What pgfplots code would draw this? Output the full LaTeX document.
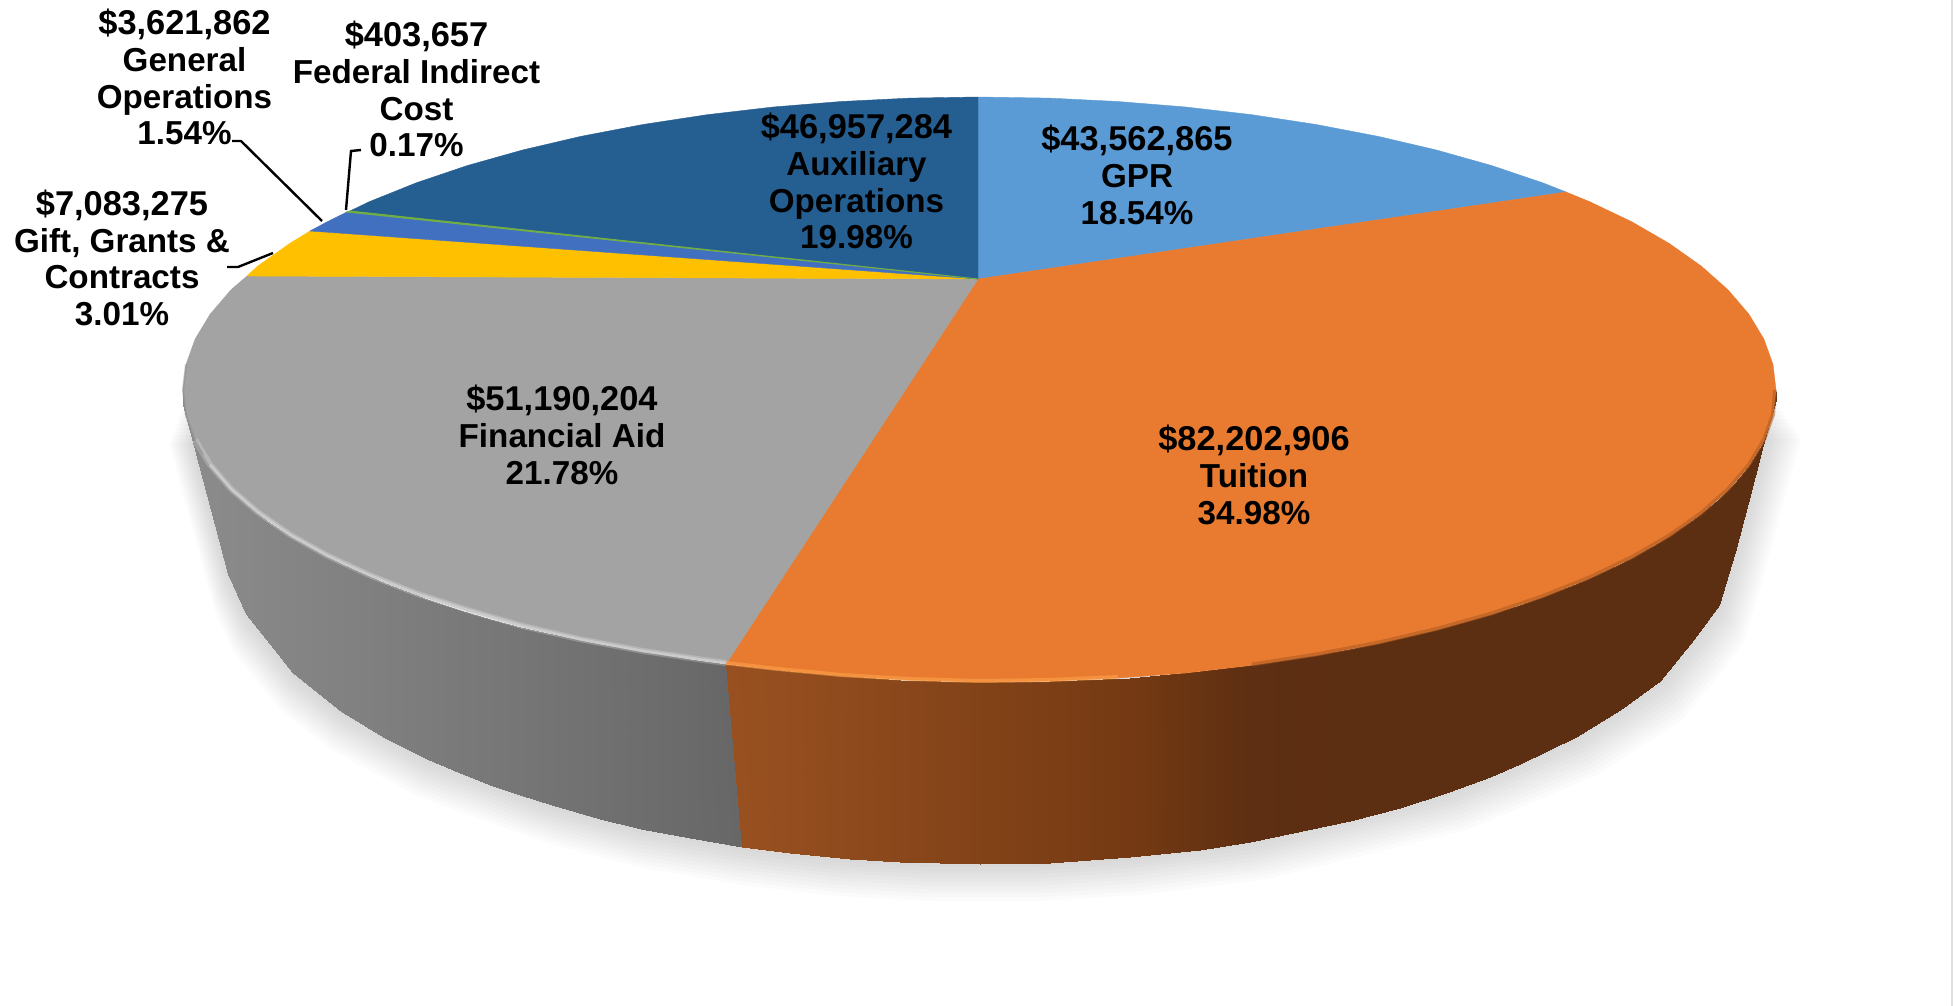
\documentclass[border=0pt]{standalone}
\usepackage{pgfplots}
\pgfplotsset{compat=1.18}
\usepackage{pgfplotstable}
\usepackage{fontspec}
\setmainfont{Liberation Sans}

\definecolor{gpr}{HTML}{5B9BD5}
\definecolor{tuition}{HTML}{E97B30}
\definecolor{finaid}{HTML}{A3A3A3}
\definecolor{gift}{HTML}{FFC000}
\definecolor{genop}{HTML}{4170C0}
\definecolor{fed}{HTML}{70AD47}
\definecolor{aux}{HTML}{255E91}

% lower outline of the pie, used for the soft shadow
\pgfplotstableread{
x y
183 405
203 480
228 574
246 614
293 673
342 712
427 759
552 805
641 829
742 847
834 858
926 863
1033 863
1129 857
1250 842
1449 792
1576 737
1660 681
1694 639
1719 605
1735 552
1748 503
1763 445
1776 400
}\outline

\tikzset{lab/.style={font=\bfseries\fontsize{17.2}{18.4}\selectfont,align=center,text=black,inner sep=0pt}}
\newcommand{\tl}[1]{{\fontsize{16.6}{18.4}\selectfont #1}}

\begin{document}
\begin{tikzpicture}
\path[use as bounding box] (0,0) rectangle (977.5pt,503pt);
\begin{axis}[
    scale only axis,
    width=977.5pt,
    height=503pt,
    xmin=0, xmax=1955,
    ymin=0, ymax=1006,
    y dir=reverse,
    hide axis,
    clip=false,
    colormap={side}{rgb255=(140,140,140) rgb255=(103,103,103) rgb255=(152,80,32) rgb255=(117,58,19) rgb255=(92,46,18)},
    point meta min=0,
    point meta max=4,
]
% frame line at the right edge of the picture
\addplot[no marks,color=black!12,line width=0.9pt] coordinates {(1952,0)(1952,1006)};
% shadow
\pgfplotsinvokeforeach{1,...,10}{
  \addplot[draw=none,fill=black,fill opacity=0.014]
    table[x expr={979+(\thisrow{x}-979)*(1+#1*0.0025)+#1*0.6},y expr={\thisrow{y}+#1*3.8}] {\outline} -- cycle;
}
% side, grey
\addplot[surf,shader=interp,mesh/rows=2,point meta=\thisrow{c}] table[x=x,y=y] {
x y c
183 392 0
190 429 0.01
203 455 0.04
215 472 0.06
228 483 0.08
246 504 0.11
270 523 0.16
293 538 0.20
342 564 0.28
385 583 0.36
427 599 0.44
460 610 0.50
490 619 0.55
520 627 0.60
552 634 0.66
600 644 0.75
641 651 0.82
690 659 0.91
726 664 1
183 405 0
190 431 0.01
203 480 0.04
215 525 0.06
228 574 0.08
246 614 0.11
270 644 0.16
293 673 0.20
342 712 0.28
385 738 0.36
427 759 0.44
460 773 0.50
490 785 0.55
520 795 0.60
552 805 0.66
600 819 0.75
641 829 0.82
690 838 0.91
742 847 1
};
% side, orange
\addplot[surf,shader=interp,mesh/rows=2,point meta=\thisrow{c}] table[x=x,y=y] {
x y c
726 664 2
790 671 2.12
850 676 2.28
900 680 2.41
980 682 2.61
1050 681 2.80
1130 678 3
1200 671 3.54
1250 665 3.92
1350 649 4
1400 638 4
1449 626 4
1490 614 4
1520 605 4
1576 584 4
1620 564 4
1660 542 4
1694 519 4
1719 499 4
1735 483 4
1748 467 4
1763 443 4
1776 392 4
742 847 2
790 853 2.12
850 859 2.28
900 862 2.41
980 864 2.61
1050 863 2.80
1130 857 3
1200 850 3.54
1250 842 3.92
1350 821 4
1400 808 4
1449 792 4
1490 777 4
1520 764 4
1576 737 4
1620 710 4
1660 681 4
1694 639 4
1719 605 4
1735 552 4
1748 503 4
1763 445 4
1776 400 4
};
% top face
\addplot[fill=gpr,draw=gpr,line width=0.2pt] coordinates {
(978,279)(978,97)(1048.9,98.1)(1117.8,101.5)(1185.7,107)(1251.9,114.7)(1316.1,124.5)(1377.8,136.3)(1436.4,150)(1491.5,165.5)(1542.7,182.8)(1566,192)
} -- cycle;
\addplot[fill=tuition,draw=tuition,line width=0.2pt] coordinates {
(978,279)(1566,192)(1589.7,201.7)(1632,221.9)(1669.3,243.5)(1701.4,266.2)(1728,289.8)(1748.9,314.2)(1763.9,339.1)(1773,364.5)(1776,390)(1773,415.5)(1763.9,440.9)(1748.9,465.8)(1728,490.2)(1701.4,513.8)(1669.3,536.5)(1632,558.1)(1589.7,578.3)(1542.7,597.2)(1491.5,614.5)(1436.4,630)(1377.8,643.7)(1316.1,655.5)(1251.9,665.3)(1185.7,673)(1117.8,678)(1048.9,681)(979.5,682)(910.1,680)(841.2,676)(773.3,669.5)(726,664)
} -- cycle;
\addplot[fill=finaid,draw=finaid,line width=0.2pt] coordinates {
(978,279)(726,664)(707.1,661.5)(642.9,652)(581.2,640.5)(522.6,627)(467.5,611)(416.3,594.5)(369.3,576)(327,556.5)(289.7,535.5)(257.6,513)(231,490.2)(210.1,465.8)(195.1,440.9)(186,415.5)(183,390)(186,364.5)(195.1,339.1)(210.1,314.2)(231,289.8)(247,276)
} -- cycle;
\addplot[fill=gift,draw=gift,line width=0.2pt] coordinates {
(978,279)(247,276)(257.6,266.2)(289.7,243.5)(310,231)
} -- cycle;
\addplot[fill=genop,draw=genop,line width=0.2pt] coordinates {
(978,279)(310,231)(327,221.9)(347,212)
} -- cycle;
\addplot[fill=aux,draw=aux,line width=0.2pt] coordinates {
(978,279)(350,211)(369.3,201.7)(416.3,182.8)(467.5,165.5)(522.6,150)(581.2,136.3)(642.9,124.5)(707.1,114.7)(773.3,107)(841.2,101.5)(910.1,98.1)(978,97)
} -- cycle;
\addplot[fill=fed,draw=fed,line width=0.5pt] coordinates {
(978,279)(347,212)(350,211)
} -- cycle;
% bevel along the rim
\addplot[no marks,color=white,opacity=0.22,line width=3pt] coordinates {
(726,663)(707.1,660.5)(642.9,651)(581.2,639.5)(522.6,626)(467.5,610)(416.3,593.5)(369.3,575)(327,555.5)(289.7,534.5)(257.6,512)(231,489)(210.1,464.8)(195.1,439.9)
};
\addplot[no marks,color=white,opacity=0.28,line width=1.3pt] coordinates {
(726,663)(707.1,660.5)(642.9,651)(581.2,639.5)(522.6,626)(467.5,610)(416.3,593.5)(369.3,575)(327,555.5)(289.7,534.5)(257.6,512)(231,489)(210.1,464.8)
};
\addplot[no marks,color=black!45!white,opacity=0.5,line width=1pt] coordinates {
(203,455)(195.1,440.9)(186,415.5)(183,390)(186,364.5)
};
\addplot[no marks,color=orange!70!white,opacity=0.55,line width=2pt] coordinates {
(726,663)(773.3,668.5)(841.2,675)(910.1,679)(979.5,681)(1048.9,680)(1117.8,677)
};
\addplot[no marks,color=tuition!70!black,opacity=0.5,line width=2pt] coordinates {
(1251.9,664.5)(1316.1,654.5)(1377.8,642.7)(1436.4,629)(1491.5,613.5)(1542.7,596.2)(1589.7,577.3)(1632,557.1)(1669.3,535.5)(1701.4,512.8)(1728,489.2)(1748.9,464.8)(1763.9,439.9)(1773,414.5)(1775,390)
};
% leader lines
\addplot[no marks,black,line width=1.2pt] coordinates {(232,141)(241,141)(322,221)};
\addplot[no marks,black,line width=1.2pt] coordinates {(361,150)(351,151)(346,210)};
\addplot[no marks,black,line width=1.2pt] coordinates {(227,267)(238,267)(273,253)};
% labels
\node[lab] at (axis cs:1137,175) {\$43,562,865\\\tl{GPR}\\\tl{18.54\%}};
\node[lab] at (axis cs:1254,475) {\$82,202,906\\\tl{Tuition}\\\tl{34.98\%}};
\node[lab] at (axis cs:562,435) {\$51,190,204\\\tl{Financial Aid}\\\tl{21.78\%}};
\node[lab] at (axis cs:122,258) {\$7,083,275\\\tl{Gift, Grants \&}\\\tl{Contracts}\\\tl{3.01\%}};
\node[lab] at (axis cs:184.5,77) {\$3,621,862\\\tl{General}\\\tl{Operations}\\\tl{1.54\%}};
\node[lab] at (axis cs:416.5,89) {\$403,657\\\tl{Federal Indirect}\\\tl{Cost}\\\tl{0.17\%}};
\node[lab] at (axis cs:856.5,181) {\$46,957,284\\\tl{Auxiliary}\\\tl{Operations}\\\tl{19.98\%}};
\end{axis}
\end{tikzpicture}
\end{document}
